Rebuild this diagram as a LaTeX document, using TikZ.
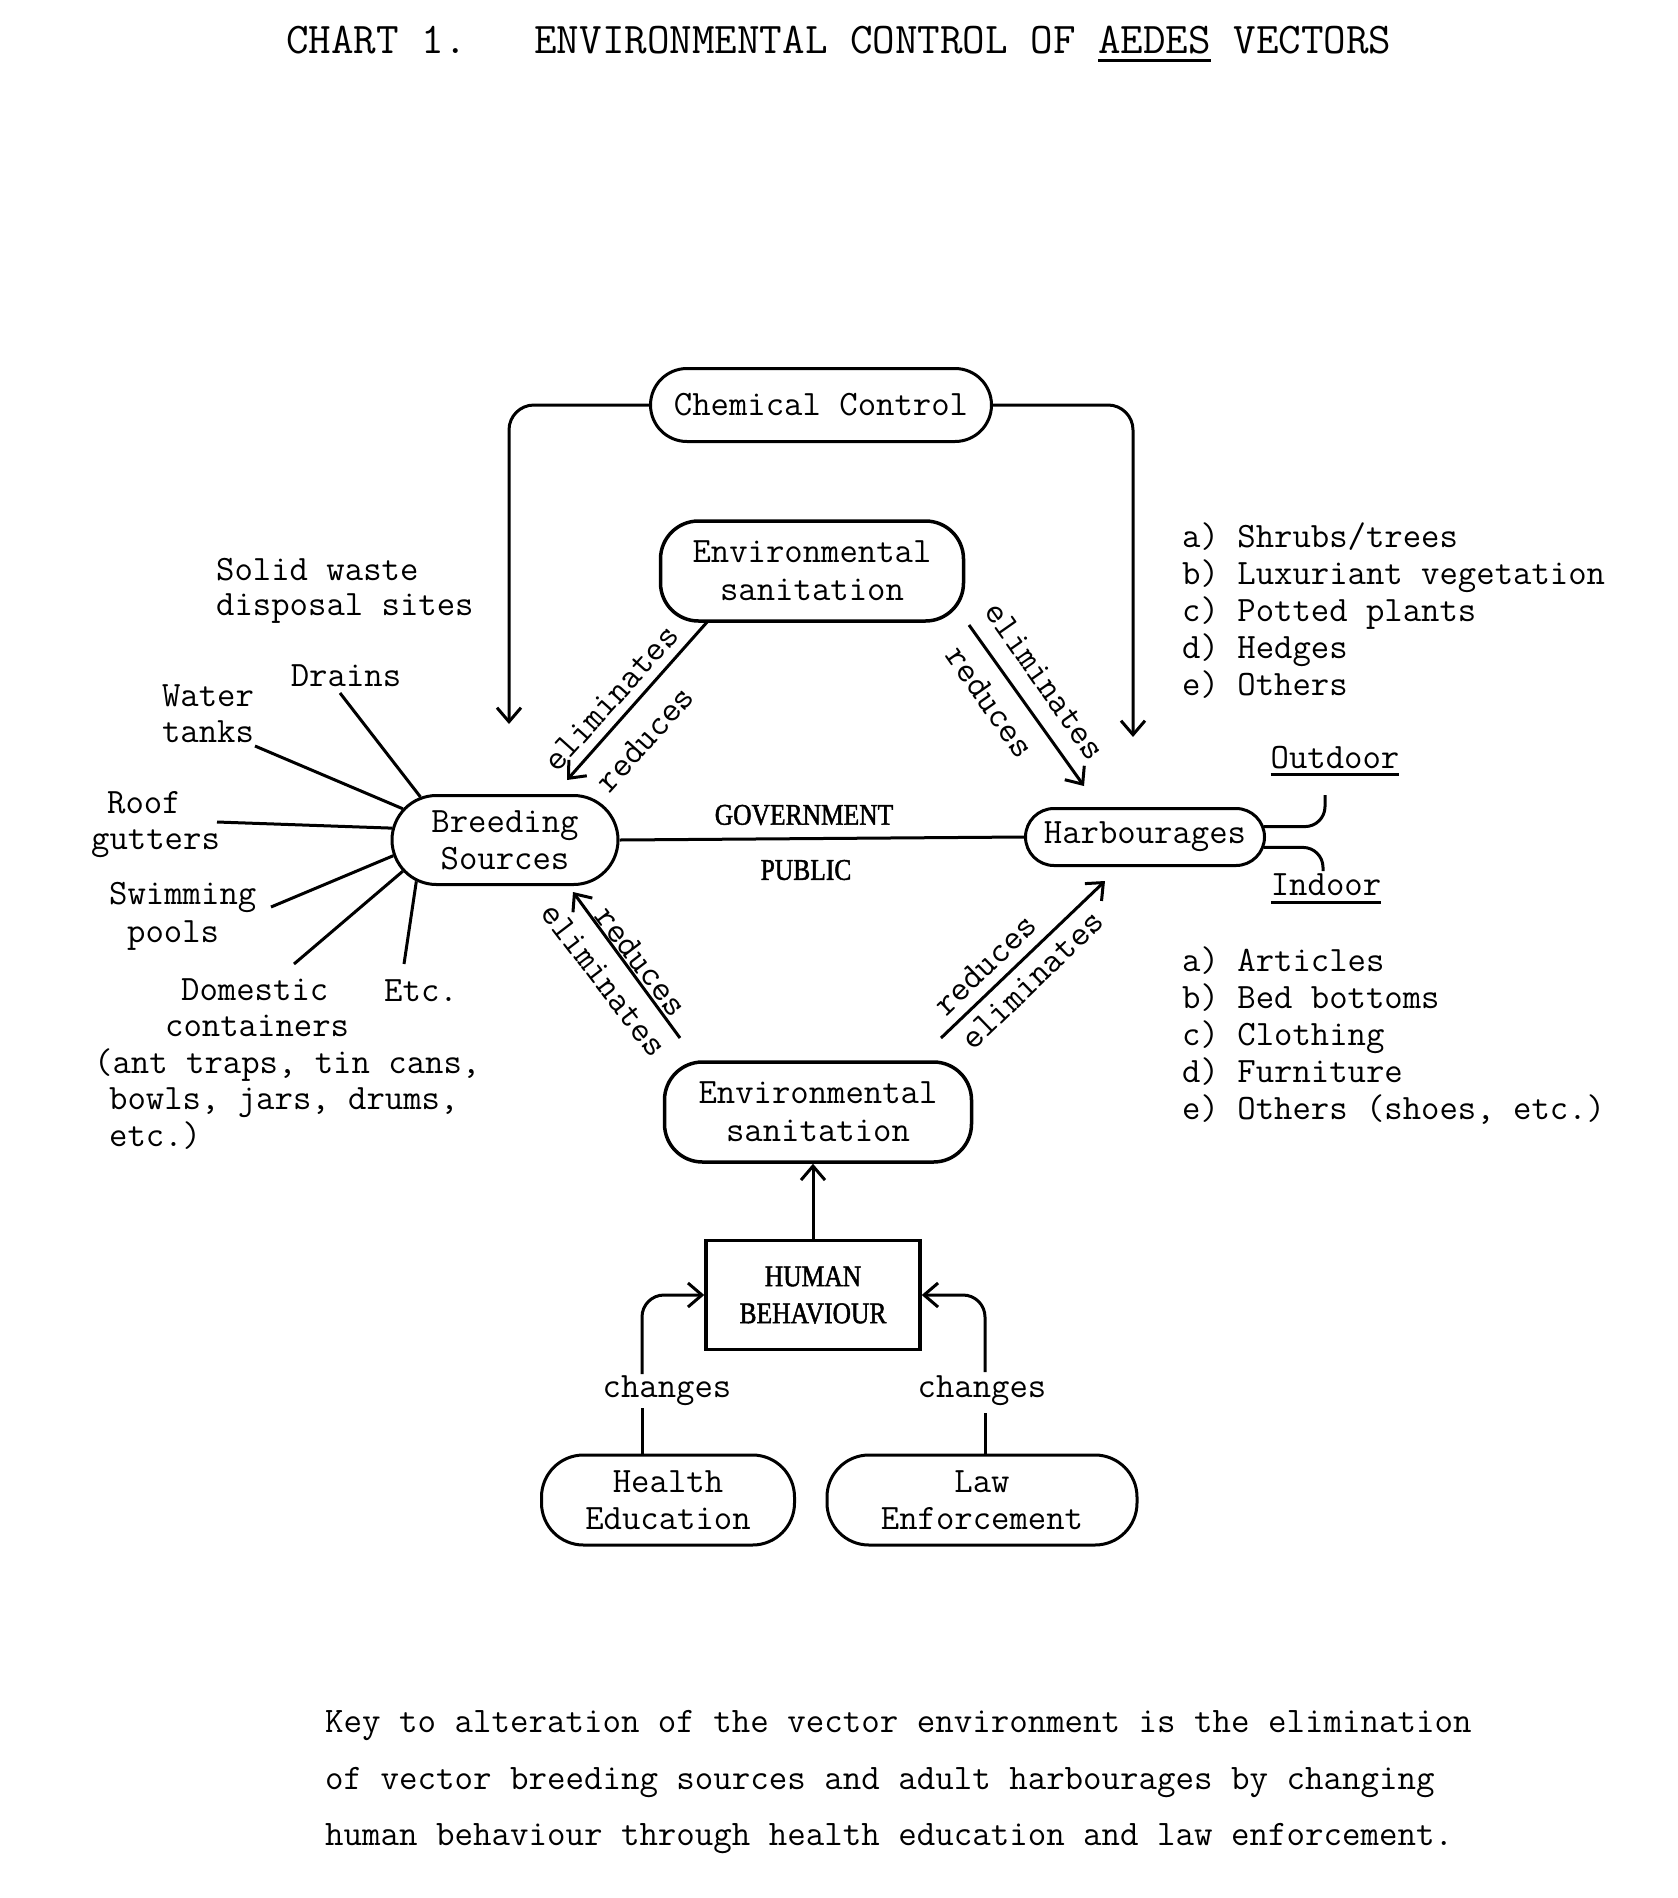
\documentclass[tikz,border=0pt]{standalone}
\usepackage{fontspec}
\newfontfamily\condfont{Liberation Serif}[FakeStretch=0.85,FakeBold=1.5]
\usetikzlibrary{arrows.meta,shapes.misc}
\frenchspacing
\newcommand\myul[2][-8pt]{\setbox0=\hbox{#2}\rlap{\rule[#1]{\wd0}{3pt}}\box0\relax}
\newcommand\tw{\ttfamily\addfontfeature{FakeBold=1.5}}
\tikzset{
  txt/.style={font=\tw\fontsize{35.7}{37}\selectfont, inner sep=0pt},
  cond/.style={font=\condfont\fontsize{30}{37}\selectfont, inner sep=0pt},
  pill/.style={txt, draw, rounded rectangle, line width=3pt, align=center},
  rbox/.style={txt, draw, rectangle, line width=3.5pt, align=center},
  conn/.style={line width=3pt},
  arr/.style={line width=3pt, -{Straight Barb[length=14pt,width=24pt,line width=3pt]}},
}
\begin{document}
\begin{tikzpicture}[x=1pt,y=-1pt]
\fill[white] (0,0) rectangle (1678,1898);
\useasboundingbox (0,0) rectangle (1678,1898);

% title
\node[txt, font=\tw\fontsize{43.8}{48}\selectfont, anchor=base west] (title) at (286,53)
  {CHART 1.\ \ \ ENVIRONMENTAL CONTROL OF \myul[-8.5pt]{AEDES} VECTORS};

% main nodes
\node[pill, minimum width=341pt, minimum height=73pt] (chem) at (821,405) {Chemical Control};
\node[rbox, rounded corners=38pt, minimum width=303pt, minimum height=100pt, font=\tw\fontsize{35.7}{38}\selectfont] (est) at (812,571) {Environmental\\sanitation};
\node[pill, minimum width=226pt, minimum height=89pt] (breed) at (505,840) {Breeding\\Sources};
\node[pill, minimum width=239pt, minimum height=57pt] (harb) at (1145,837) {Harbourages};
\node[rbox, rounded corners=38pt, minimum width=307pt, minimum height=100pt, font=\tw\fontsize{35.7}{38}\selectfont] (esb) at (818,1112) {Environmental\\sanitation};
\node[draw, rectangle, line width=3.5pt, cond, align=center, minimum width=214pt, minimum height=109pt] (hb) at (813,1295) {HUMAN\\BEHAVIOUR};
\node[rbox, line width=3pt, rounded corners=42pt, minimum width=253pt, minimum height=90pt] (he) at (668,1500) {Health\\Education};
\node[rbox, line width=3pt, rounded corners=42pt, minimum width=310pt, minimum height=90pt] (law) at (982,1500) {Law\\Enforcement};

% centre labels
\node[cond] (gov) at (804,815) {GOVERNMENT};
\node[cond] (pub) at (806,870) {PUBLIC};

% breeding source labels
\node[txt, align=left, anchor=west, font=\tw\fontsize{35.7}{35}\selectfont] (solid) at (216,591) {Solid waste\\disposal sites};
\node[txt] (drains) at (346,676) {Drains};
\node[txt, align=center, font=\tw\fontsize{35.7}{36}\selectfont] (water) at (208,714) {Water\\tanks};
\node[txt, align=left, anchor=west, font=\tw\fontsize{35.7}{36}\selectfont] (roof) at (91,825) {\hspace*{16pt}Roof\\gutters};
\node[txt, align=left, anchor=west, font=\tw\fontsize{35.7}{38}\selectfont] (swim) at (109,916) {Swimming\\\hspace*{18pt}pools};
\node[txt, align=left, anchor=west, font=\tw\fontsize{35.7}{36.5}\selectfont] (dom) at (94,1064)
  {\hspace*{87pt}Domestic\\\hspace*{71pt}containers\\(ant traps, tin cans,\\\hspace*{15pt}bowls, jars, drums,\\\hspace*{15pt}etc.)};
\node[txt] (etc) at (421,991) {Etc.};

\coordinate (sDr) at (340,693);
\coordinate (sWa) at (255,746);
\coordinate (sRo) at (217,822);
\coordinate (sSw) at (271,907);
\coordinate (sDo) at (294,964);
\coordinate (sEt) at (404,964);
\draw[conn] (sDr) -- (breed.153);
\draw[conn] (sWa) -- (breed.163);
\draw[conn] (sRo) -- (breed.174);
\draw[conn] (sSw) -- (breed.188);
\draw[conn] (sDo) -- (breed.197);
\draw[conn] (sEt) -- (breed.205);

% harbourage labels
\node[txt, align=left, anchor=west] (list1) at (1182,611)
  {a) Shrubs/trees\\b) Luxuriant vegetation\\c) Potted plants\\d) Hedges\\e) Others};
\node[txt] (outdoor) at (1335,761) {\myul{Outdoor}};
\node[txt] (indoor) at (1326,889) {\myul{Indoor}};
\node[txt, align=left, anchor=west] (list2) at (1182,1036)
  {a) Articles\\b) Bed bottoms\\c) Clothing\\d) Furniture\\e) Others (shoes, etc.)};
\coordinate (oc) at (1325,795);
\coordinate (ic) at (1323,871);
\draw[conn, rounded corners=20pt] (harb.5) -| (oc);
\draw[conn, rounded corners=20pt] (harb.-5) -| (ic);

% chemical control arrows
\coordinate (cl) at (509,724);
\coordinate (cr) at (1133,737);
\draw[arr, rounded corners=25pt] (chem.west) -| (cl);
\draw[arr, rounded corners=25pt] (chem.east) -| (cr);

% government / public line
\draw[conn] (breed.east) -- (harb.west);

% diagonal arrows
\coordinate (ulA) at (708,621);
\coordinate (ulB) at (567,780);
\coordinate (urA) at (969,625);
\coordinate (urB) at (1084,786);
\coordinate (llA) at (680,1038);
\coordinate (llB) at (573,892);
\coordinate (lrA) at (941,1038);
\coordinate (lrB) at (1105,881);
\draw[arr] (ulA) -- (ulB);
\draw[arr] (urA) -- (urB);
\draw[arr] (llA) -- (llB);
\draw[arr] (lrA) -- (lrB);

\node[txt, rotate=48] (el1) at (611,698) {eliminates};
\node[txt, rotate=48] (re1) at (645,739) {reduces};
\node[txt, rotate=-55] (el2) at (1045,681) {eliminates};
\node[txt, rotate=-55] (re2) at (990,702) {reduces};
\node[txt, rotate=-52.6] (re3) at (641,961) {reduces};
\node[txt, rotate=-52.6] (el3) at (604,980) {eliminates};
\node[txt, rotate=44] (re4) at (985,965) {reduces};
\node[txt, rotate=44] (el4) at (1032,980) {eliminates};

% human behaviour
\draw[arr] (hb.north) -- (hb.north |- esb.south);
\node[txt] (ch1) at (667,1391) {changes};
\node[txt] (ch2) at (982,1391) {changes};
\coordinate (hl1) at (642,1408);
\coordinate (hl2) at (642,1374);
\coordinate (lr1) at (985,1413);
\coordinate (lr2) at (985,1372);
\draw[conn] (hl1 |- he.north) -- (hl1);
\draw[arr, rounded corners=22pt] (hl2) |- (hb.west);
\draw[conn] (lr1 |- law.north) -- (lr1);
\draw[arr, rounded corners=22pt] (lr2) |- (hb.east);

% key paragraph
\node[txt, font=\tw\fontsize{35.9}{37}\selectfont, anchor=base west] (p1) at (325,1732) {Key to alteration of the vector environment is the elimination};
\node[txt, font=\tw\fontsize{35.9}{37}\selectfont, anchor=base west] (p2) at (325,1789) {of vector breeding sources and adult harbourages by changing};
\node[txt, font=\tw\fontsize{35.9}{37}\selectfont, anchor=base west] (p3) at (325,1845) {human behaviour through health education and law enforcement.};
\end{tikzpicture}
\end{document}
